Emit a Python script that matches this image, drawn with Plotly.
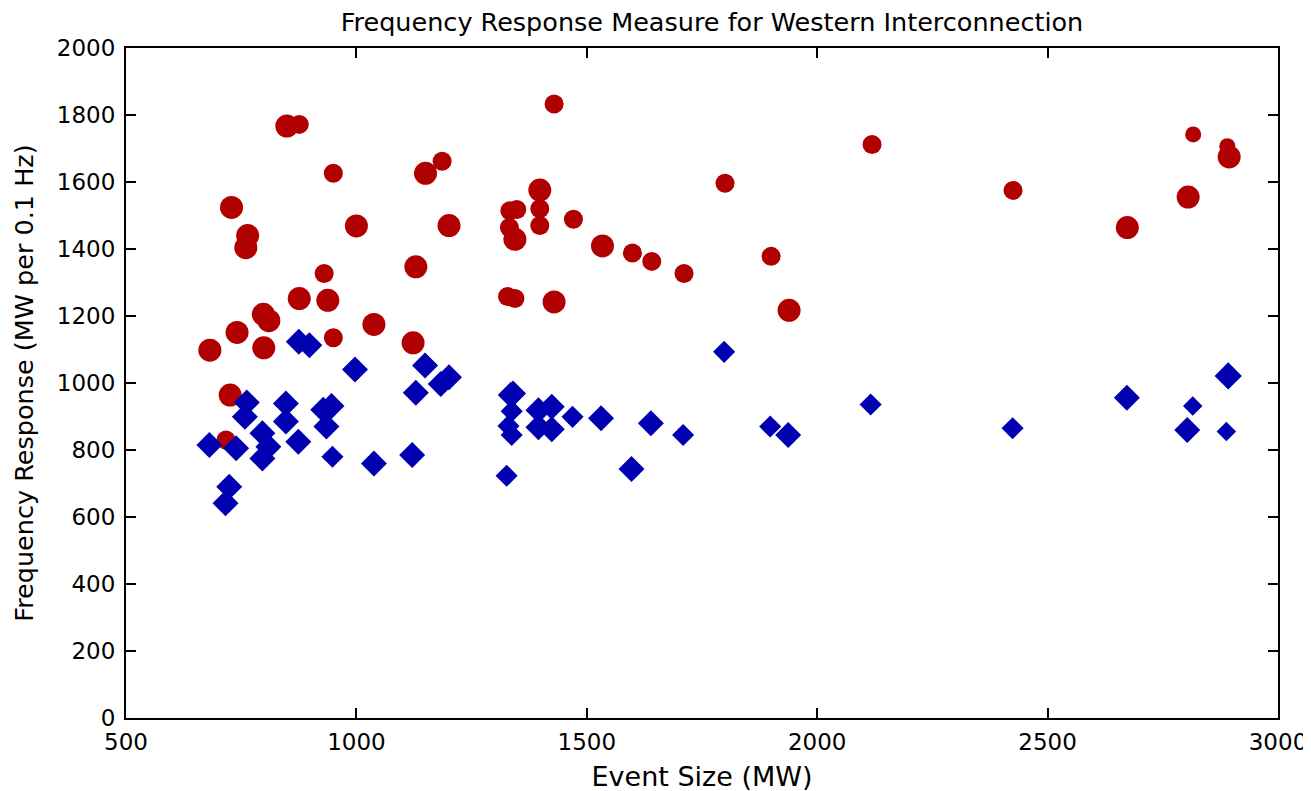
import plotly.graph_objects as go

# Red circles (upper measure)
red_x = [682, 717, 726, 729, 741, 760, 764, 798, 799, 810, 849, 876, 876, 930, 938, 950, 950,
         1000, 1038, 1123, 1129, 1150, 1186, 1201, 1328, 1333, 1344, 1348, 1332, 1344, 1398,
         1398, 1398, 1429, 1429, 1471, 1534, 1599, 1641, 1711, 1800, 1900, 1939, 2119, 2425,
         2673, 2805, 2816, 2890, 2894]
red_y = [1098, 830, 964, 1524, 1151, 1404, 1440, 1205, 1105, 1186, 1767, 1772, 1252, 1327, 1247,
         1626, 1135, 1469, 1175, 1120, 1347, 1626, 1662, 1470, 1258, 1514, 1252, 1518, 1464, 1429,
         1576, 1520, 1470, 1833, 1242, 1489, 1409, 1388, 1363, 1327, 1596, 1378, 1217, 1712, 1575,
         1464, 1555, 1742, 1707, 1675]
red_size = [23, 19, 23, 23, 23, 23, 23, 23, 23, 23, 23, 19, 23, 19, 23, 19, 19,
            23, 23, 23, 23, 23, 19, 23, 19, 19, 19, 19, 19, 23, 23,
            19, 19, 19, 23, 19, 23, 19, 19, 19, 19, 19, 23, 19, 19,
            23, 23, 16, 16, 23]

# Blue diamonds (lower measure)
blue_x = [681, 716, 724, 739, 758, 762, 796, 796, 809, 847, 847, 874, 875, 898, 928, 935, 946,
          948, 997, 1038, 1121, 1129, 1149, 1183, 1201, 1326, 1330, 1335, 1337, 1337, 1340,
          1395, 1395, 1424, 1424, 1469, 1531, 1597, 1639, 1709, 1798, 1898, 1937, 2116, 2424,
          2672, 2803, 2815, 2888, 2892]
blue_y = [815, 641, 690, 805, 899, 942, 775, 850, 810, 885, 939, 825, 1123, 1113, 920, 870, 931,
          780, 1040, 760, 785, 971, 1052, 997, 1017, 723, 872, 964, 845, 916, 969,
          919, 868, 929, 862, 899, 895, 743, 880, 845, 1093, 870, 845, 936, 865,
          956, 860, 931, 855, 1021]
blue_size = [20, 20, 20, 20, 20, 20, 20, 20, 20, 20, 20, 20, 20, 20, 20, 20, 20,
             17, 20, 20, 20, 20, 20, 20, 20, 17, 17, 20, 17, 17, 20,
             20, 20, 20, 20, 17, 20, 20, 20, 17, 17, 17, 20, 17, 17,
             20, 20, 15, 15, 21]

x_ticks = [500, 1000, 1500, 2000, 2500, 3000]
y_ticks = [0, 200, 400, 600, 800, 1000, 1200, 1400, 1600, 1800, 2000]

fig = go.Figure()
fig.add_trace(go.Scatter(
    x=red_x, y=red_y, mode="markers",
    marker=dict(symbol="circle", size=red_size, color="#B00000", opacity=1, line=dict(width=0)),
    showlegend=False))
fig.add_trace(go.Scatter(
    x=blue_x, y=blue_y, mode="markers",
    marker=dict(symbol="diamond", size=blue_size, color="#0000B0", opacity=1, line=dict(width=0)),
    showlegend=False))

axis_common = dict(
    showgrid=False, zeroline=False, showline=True, linecolor="black", linewidth=2,
    mirror="allticks", ticks="inside", ticklen=10, tickwidth=2, tickcolor="black",
    tickfont=dict(family="DejaVu Sans", size=23, color="black"), automargin=False,
)

# page body has an 8px margin, so the figure is offset by 8px
fig.update_layout(
    width=1311, height=791,
    paper_bgcolor="white", plot_bgcolor="white",
    margin=dict(l=118, r=41, t=40, b=81),
    title=dict(text="Frequency Response Measure for Western Interconnection",
               x=0.5087, xref="paper", xanchor="center",
               y=1 - 14 / 791, yanchor="middle",
               font=dict(family="DejaVu Sans", size=25.5, color="black")),
    xaxis=dict(range=[500, 3000], tickvals=x_ticks, ticktext=[str(v) for v in x_ticks],
               ticklabelstandoff=2,
               title=dict(text="Event Size (MW)", standoff=14,
                          font=dict(family="DejaVu Sans", size=27, color="black")),
               **axis_common),
    yaxis=dict(range=[0, 2000], tickvals=y_ticks, ticktext=[str(v) for v in y_ticks],
               ticklabelstandoff=4,
               title=dict(text="Frequency Response (MW per 0.1 Hz)", standoff=16,
                          font=dict(family="DejaVu Sans", size=25.5, color="black")),
               **axis_common),
)

fig.write_html("out.html")
